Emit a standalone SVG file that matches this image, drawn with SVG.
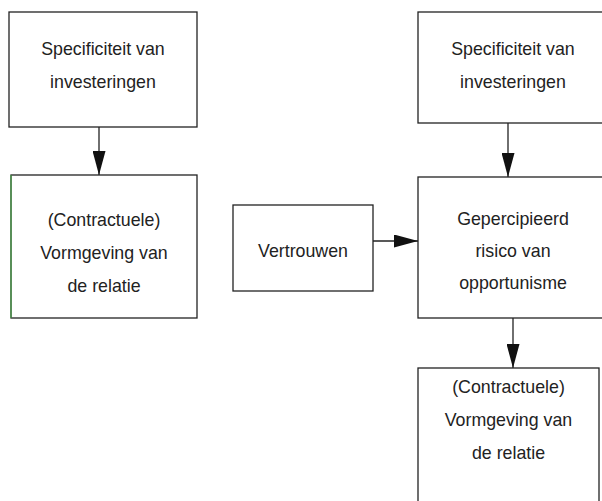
<svg xmlns="http://www.w3.org/2000/svg" width="602" height="501" viewBox="0 0 602 501">
<style>
.box{fill:#fff;stroke:#222;stroke-width:1.3}
.t{font-family:"Liberation Sans",Arial,sans-serif;font-size:17.8px;fill:#222;text-anchor:middle}
.c{stroke:#222;stroke-width:1.3;fill:none}
</style>
<defs>
<marker id="ah" markerUnits="userSpaceOnUse" markerWidth="24" markerHeight="13" refX="24" refY="6.5" orient="auto">
<path d="M0,0 L24,6.5 L0,13 Z" fill="#111"/>
</marker>
</defs>
<rect width="602" height="501" fill="#fff"/>
<g id="connectors">
<line class="c" x1="99" y1="127" x2="99" y2="175" marker-end="url(#ah)"/>
<line class="c" x1="508" y1="123" x2="508" y2="177" marker-end="url(#ah)"/>
<line class="c" x1="373" y1="241" x2="418" y2="241" marker-end="url(#ah)"/>
<line class="c" x1="513" y1="318" x2="513" y2="368" marker-end="url(#ah)"/>
</g>
<g id="spec-left">
<rect class="box" x="9" y="12" width="188" height="115"/>
<text class="t" x="103" y="55">Specificiteit van</text>
<text class="t" x="103" y="88">investeringen</text>
</g>
<g id="vorm-left">
<rect class="box" x="11" y="175" width="186" height="143"/>
<line x1="11" y1="175" x2="11" y2="318" stroke="#4aa54a" stroke-width="1.2"/>
<text class="t" x="104" y="226">(Contractuele)</text>
<text class="t" x="104" y="259">Vormgeving van</text>
<text class="t" x="104" y="292">de relatie</text>
</g>
<g id="vertrouwen">
<rect class="box" x="233" y="205" width="140" height="86"/>
<text class="t" x="303" y="257">Vertrouwen</text>
</g>
<g id="spec-right">
<rect class="box" x="418" y="12" width="200" height="111"/>
<text class="t" x="513" y="55">Specificiteit van</text>
<text class="t" x="513" y="88">investeringen</text>
</g>
<g id="risico">
<rect class="box" x="418" y="177" width="200" height="141"/>
<text class="t" x="513" y="225">Gepercipieerd</text>
<text class="t" x="513" y="257">risico van</text>
<text class="t" x="513" y="289">opportunisme</text>
</g>
<g id="vorm-right">
<rect class="box" x="418" y="368" width="181" height="150"/>
<text class="t" x="508.5" y="393">(Contractuele)</text>
<text class="t" x="508.5" y="426">Vormgeving van</text>
<text class="t" x="508.5" y="459">de relatie</text>
</g>
</svg>
